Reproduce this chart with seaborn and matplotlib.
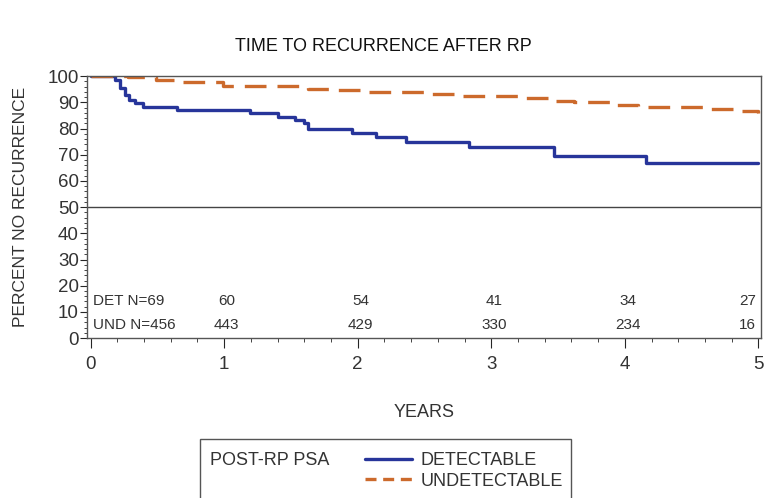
import seaborn as sns
import matplotlib.pyplot as plt
import pandas as pd
from matplotlib.patches import Rectangle
from matplotlib.ticker import MultipleLocator

sns.set_style("ticks")
plt.rcParams["font.family"] = ["Liberation Sans", "DejaVu Sans"]

# step curves (years, percent)
det_years = [0, 0.18, 0.22, 0.26, 0.29, 0.33, 0.39, 0.65, 1.19, 1.40, 1.53, 1.60, 1.63,
             1.96, 2.14, 2.36, 2.83, 3.47, 4.16, 5.0]
det_pct = [100, 98.5, 95.5, 92.8, 90.8, 89.6, 88.3, 87.0, 85.8, 84.5, 83.3, 82.0, 80.0,
           78.4, 76.9, 75.0, 73.1, 69.5, 66.7, 66.7]
und_years = [0, 0.28, 0.49, 0.67, 0.99, 1.63, 1.83, 2.03, 2.50, 2.75, 3.22, 3.47, 3.62,
             3.89, 4.10, 4.61, 4.86, 5.0]
und_pct = [100, 99.6, 98.7, 97.8, 96.2, 95.3, 94.7, 94.0, 93.3, 92.4, 91.5, 90.6, 90.0,
           88.9, 88.1, 87.3, 86.6, 86.0]

# numbers at risk
risk_years = [1, 2, 3, 4, 5]
det_risk = [60, 54, 41, 34, 27]
und_risk = [443, 429, 330, 234, 16]

df = pd.concat([
    pd.DataFrame({"years": det_years, "pct": det_pct, "group": "DETECTABLE"}),
    pd.DataFrame({"years": und_years, "pct": und_pct, "group": "UNDETECTABLE"}),
])

txt = "#333333"
fig = plt.figure(figsize=(7.67, 4.98), dpi=100)
ax = fig.add_axes([0.1138, 0.321, 0.8785, 0.526])

sns.lineplot(data=df, x="years", y="pct", hue="group", style="group",
             palette={"DETECTABLE": "#27359a", "UNDETECTABLE": "#cc6a2c"},
             dashes={"DETECTABLE": "", "UNDETECTABLE": (6.5, 3.3)},
             estimator=None, drawstyle="steps-post", linewidth=2.4,
             legend=False, ax=ax)

ax.axhline(50, color="#444444", lw=1)
ax.set_xlim(-0.025, 5.02)
ax.set_ylim(0, 100)
ax.xaxis.set_major_locator(MultipleLocator(1))
ax.xaxis.set_minor_locator(MultipleLocator(0.2))
ax.yaxis.set_major_locator(MultipleLocator(10))
ax.yaxis.set_minor_locator(MultipleLocator(2))
ax.tick_params(axis="x", which="major", length=7, pad=6, labelsize=13.5, labelcolor=txt)
ax.tick_params(axis="x", which="minor", length=3)
ax.tick_params(axis="y", which="major", length=5, pad=1, labelsize=13.5, labelcolor=txt)
ax.tick_params(axis="y", which="minor", length=2.5)
for sp in ax.spines.values():
    sp.set_color("#555555")
    sp.set_linewidth(1)

ax.set_xlabel("YEARS", fontsize=13, labelpad=22, color=txt)
ax.set_ylabel("PERCENT NO RECURRENCE", fontsize=12.5, labelpad=14, color=txt)
fig.text(0.5, 0.907, "TIME TO RECURRENCE AFTER RP", ha="center", va="center",
         fontsize=13, color="#111111")

# at-risk table
ax.text(0.02, 14.2, "DET N=69", ha="left", va="center", fontsize=11, color=txt)
ax.text(0.02, 5.1, "UND N=456", ha="left", va="center", fontsize=11, color=txt)
for yr, d, u in zip(risk_years, det_risk, und_risk):
    ha = "right" if yr == 5 else "center"
    xx = 4.98 if yr == 5 else yr + 0.02
    ax.text(xx, 14.2, str(d), ha=ha, va="center", fontsize=11, color=txt)
    ax.text(xx, 5.1, str(u), ha=ha, va="center", fontsize=11, color=txt)

# legend box at the bottom
fig.patches.append(Rectangle((200 / 767, -0.05), 371 / 767, 1 - 439 / 498 + 0.05,
                             transform=fig.transFigure, fill=False, ec="#555555", lw=1))
fig.text(210 / 767, 1 - 460 / 498, "POST-RP PSA", ha="left", va="center",
         fontsize=13, color=txt)
handles = [plt.Line2D([], [], color="#27359a", lw=2.4),
           plt.Line2D([], [], color="#cc6a2c", lw=2.4, dashes=(3.3, 2.0))]
fig.legend(handles, ["DETECTABLE", "UNDETECTABLE"], loc="upper left",
           bbox_to_anchor=(356 / 767, 1 - 443 / 498), frameon=False, fontsize=13,
           handlelength=2.6, handletextpad=0.5, labelspacing=0.2, borderpad=0,
           labelcolor=txt)

fig.savefig("out.png", dpi=100)
